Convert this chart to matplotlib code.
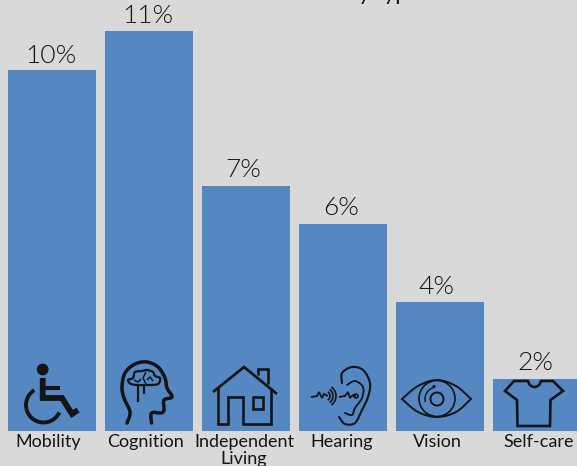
import numpy as np
from matplotlib import pyplot as plt
from matplotlib.patches import Arc, Circle, PathPatch, Rectangle
from matplotlib.path import Path

# percent of adults, heights; the printed labels are rounded
categories = ["Mobility", "Cognition", "Independent\nLiving", "Hearing", "Vision", "Self-care"]
bar_values = [9.93, 11.0, 6.74, 5.69, 3.55, 1.43]
bar_labels = ["10%", "11%", "7%", "6%", "4%", "2%"]

# the source labels do not sit quite on the bar centres (px)
category_shift = [-4, -4, -2, -1, -3, 2]
value_shift = [-1, -1, -3, -2, -4, -2]
value_lift = [7, 8, 9, 9, 8, 9]

BLUE = "#5588c3"
BACKGROUND = "#d9d9d9"
INK = "#141414"
FONT = "Lato"


def smooth(points, closed=False):
    """Catmull-Rom curve through points, as a bezier Path."""
    pts = np.asarray(points, dtype=float)
    n = len(pts)
    count = n if closed else n - 1
    verts = [pts[0]]
    codes = [Path.MOVETO]
    for i in range(count):
        if closed:
            p0, p1, p2, p3 = pts[(i - 1) % n], pts[i], pts[(i + 1) % n], pts[(i + 2) % n]
        else:
            p0, p1, p2, p3 = pts[max(i - 1, 0)], pts[i], pts[i + 1], pts[min(i + 2, n - 1)]
        verts += [p1 + (p2 - p0) / 6, p2 - (p3 - p1) / 6, p2]
        codes += [Path.CURVE4] * 3
    return Path(verts, codes)


def stroke(ax, path, lw=2.0):
    ax.add_patch(PathPatch(path, fill=False, ec=INK, lw=lw, capstyle="round", joinstyle="round"))


def line(ax, points, lw=2.0):
    ax.plot(*zip(*points), color=INK, lw=lw, solid_capstyle="butt", solid_joinstyle="miter")


def draw_wheelchair(ax):
    ax.add_patch(Circle((42.7, 369.5), 5.2, color=INK))
    line(ax, [(42.7, 378), (42.7, 398), (62, 398), (72, 414), (78, 410)], lw=4.2)
    line(ax, [(42, 388), (60, 388)], lw=3.0)
    ax.add_patch(Arc((43.5, 405), 35, 35, theta1=25, theta2=238, ec=INK, lw=2.8))


def draw_head(ax):
    outline = [(127, 423), (130, 412), (124, 398), (122, 387), (125, 373), (135, 364), (147, 362),
               (158, 367), (165, 378), (167, 388), (172, 397), (164, 400), (164, 410), (161, 413),
               (151.5, 413), (151.5, 423)]
    stroke(ax, smooth(outline), lw=2.5)
    brain = [(128, 380), (133, 378), (135, 372), (142, 371), (147, 370), (153, 372), (155, 376),
             (160, 378), (158, 384), (148, 385), (138, 385), (131, 384)]
    stroke(ax, smooth(brain, closed=True), lw=1.6)
    line(ax, [(138, 385), (138, 402)], lw=1.6)
    line(ax, [(144, 385), (144, 394)], lw=1.6)
    line(ax, [(146, 372), (143, 378), (146, 384)], lw=1.1)
    line(ax, [(134, 380), (138, 382), (141, 379)], lw=1.1)
    line(ax, [(147, 380), (150, 377), (153, 381)], lw=1.1)


def draw_house(ax):
    line(ax, [(213, 392), (244, 367), (277, 394)], lw=1.9)
    line(ax, [(218, 388), (218, 424), (228, 424), (228, 397), (243, 397), (243, 424),
              (271, 424), (271, 388)], lw=1.9)
    line(ax, [(258, 375), (258, 369), (268, 369), (268, 384)], lw=1.9)
    ax.add_patch(Rectangle((253, 397), 10, 12, fill=False, ec=INK, lw=1.9))


def draw_ear(ax):
    outer = [(342, 383), (342, 373), (352, 367), (363, 370), (370, 383), (368, 397), (362, 410),
             (355, 423), (345, 424), (339, 417)]
    stroke(ax, smooth(outer), lw=1.5)
    inner = [(347, 385), (355, 381), (363, 387), (362, 398), (355, 408), (352, 415), (345, 413)]
    stroke(ax, smooth(inner), lw=1.3)
    line(ax, [(311, 397), (317, 396), (319, 392), (322, 398), (324, 394), (328, 396)], lw=1.3)
    line(ax, [(339, 397), (345, 396), (348, 392), (350, 398), (353, 395), (356, 396)], lw=1.3)
    ax.add_patch(Circle((356, 396), 2, fill=False, ec=INK, lw=1.2))
    for diameter in (10, 16, 22):
        ax.add_patch(Arc((325, 396), diameter, diameter, theta1=-55, theta2=55, ec=INK, lw=1.2))


def draw_eye(ax):
    top = [(402, 399), (418, 386), (437, 380), (456, 386), (471, 399)]
    bottom = [(402, 399), (418, 412), (437, 417), (456, 412), (471, 399)]
    stroke(ax, smooth(top), lw=1.4)
    stroke(ax, smooth(bottom), lw=1.4)
    ax.add_patch(Circle((437, 398.5), 18, fill=False, ec=INK, lw=1.2))
    ax.add_patch(Circle((437, 399), 6.5, fill=False, ec=INK, lw=1.4))
    ax.add_patch(Arc((437, 399), 24, 24, theta1=165, theta2=255, ec=INK, lw=1.0))
    ax.add_patch(Circle((434, 386.5), 0.9, color=INK))


def draw_shirt(ax):
    collar = [(528, 381), (530, 385), (534.5, 387), (539, 385), (541, 381)]
    stroke(ax, smooth(collar), lw=1.9)
    line(ax, [(528, 381), (514, 381), (505, 391), (517, 400), (517.5, 426), (550, 426),
              (550.5, 400), (563, 391), (553, 381), (541, 381)], lw=1.9)


fig = plt.figure(figsize=(5.77, 4.66), dpi=100, facecolor=BACKGROUND)

# the axes run from the bar baseline to the top edge; one x unit is one bar pitch of 97 px
ax = fig.add_axes([0, 35 / 466, 1, 431 / 466], facecolor="none")
x = np.arange(len(categories))
ax.bar(x, bar_values, width=88 / 97, color=BLUE)
ax.set_xlim(-52 / 97, (577 - 52) / 97)
ax.set_ylim(0, 431 / 36.36)
ax.axis("off")

px = 72 / fig.dpi  # offset points per pixel
for i, name in enumerate(categories):
    ax.annotate(name, (x[i], 0), xytext=(category_shift[i] * px, -3 * px),
                textcoords="offset points", ha="center", va="top", fontname=FONT,
                fontsize=13, color=INK, linespacing=1.05, annotation_clip=False)
for i, label in enumerate(bar_labels):
    ax.annotate(label, (x[i], bar_values[i]), xytext=(value_shift[i] * px, value_lift[i] * px),
                textcoords="offset points", ha="center", va="baseline", fontname=FONT,
                fontweight=300, fontsize=19, color=INK, annotation_clip=False)

# title sits above the crop in the source, only its descenders show
fig.text(420 / 577, 1, "by type", ha="right", va="baseline", fontname=FONT,
         fontsize=16, color=INK)

# icon overlay in pixel coordinates
overlay = fig.add_axes([0, 0, 1, 1], facecolor="none")
overlay.set_xlim(0, 577)
overlay.set_ylim(466, 0)
overlay.axis("off")
for draw in (draw_wheelchair, draw_head, draw_house, draw_ear, draw_eye, draw_shirt):
    draw(overlay)

fig.savefig("out.png", dpi=100, facecolor=BACKGROUND)
